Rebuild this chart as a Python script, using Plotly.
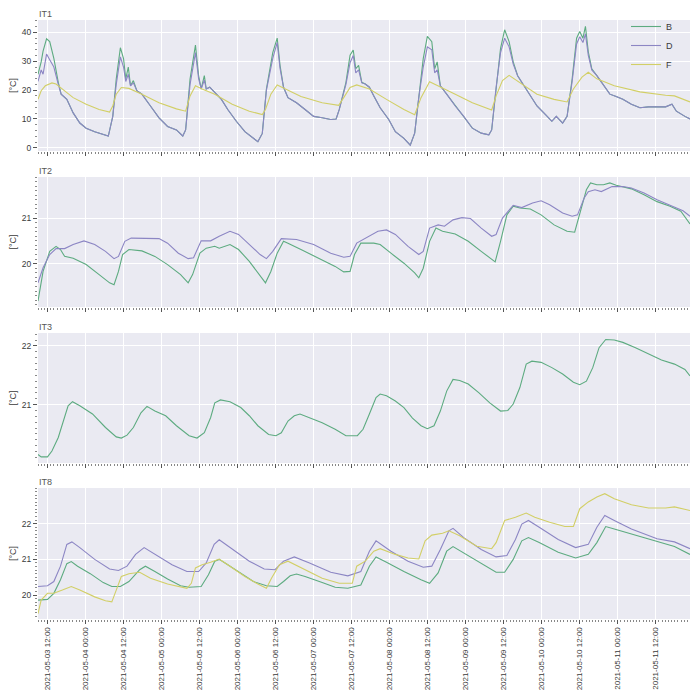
import pandas as pd
import plotly.graph_objects as go
from plotly.subplots import make_subplots

# ---------------- data (hours since 2021-05-03 00:00) ----------------
T0 = pd.Timestamp("2021-05-03 00:00")

it1_hours = [9.0, 10.0, 10.6, 11.7, 12.7, 14.0, 15.4, 16.3, 18.1, 20.1, 22.2, 24.2, 26.9, 29.6, 31.2,
             32.6, 33.7, 35.0, 36.0, 36.7, 37.5, 38.2, 39.1, 40.2, 41.8, 44.5, 47.2, 49.9, 52.7, 54.7,
             55.6, 57.0, 58.7, 59.7, 60.5, 61.5, 62.1, 63.2, 64.8, 66.9, 68.9, 71.6, 74.3, 77.0, 78.4,
             79.8, 81.1, 83.1, 84.5, 85.4, 86.5, 87.9, 90.6, 93.3, 96.0, 98.7, 101.4, 103.1, 104.1, 106.2,
             107.5, 108.5, 109.3, 110.2, 111.2, 112.3, 113.6, 115.0, 117.0, 119.7, 121.8, 124.5, 126.5, 127.9, 129.2,
             130.6, 131.9, 133.3, 134.2, 135.0, 136.0, 138.0, 140.7, 143.4, 146.1, 148.9, 151.3, 152.2, 153.6, 155.0,
             156.3, 157.7, 159.0, 160.4, 162.4, 164.4, 166.5, 169.2, 171.2, 172.6, 174.6, 176.0, 177.6, 179.0, 180.0,
             181.0, 181.8, 182.7, 183.8, 185.4, 187.5, 189.5, 191.5, 193.6, 196.3, 199.0, 201.7, 204.4, 207.1, 209.1,
             210.5, 213.2, 214.8]
it1_B = [25.5, 29.8, 33.5, 37.8, 36.8, 31.0, 22.7, 18.6, 16.8, 12.1, 8.6, 6.8, 5.6, 4.5, 4.1,
         10.9, 23.9, 34.7, 30.9, 23.9, 28.0, 21.5, 23.3, 19.8, 18.6, 14.5, 10.4, 7.4, 6.2, 4.1,
         6.2, 23.9, 35.6, 25.0, 20.4, 25.0, 20.4, 21.0, 19.2, 16.8, 13.3, 9.2, 5.6, 3.3, 2.1,
         5.0, 20.4, 33.0, 38.0, 28.6, 21.0, 17.4, 15.6, 13.3, 10.9, 10.4, 9.8, 10.0, 13.3, 22.7,
         32.1, 33.9, 27.4, 28.6, 22.7, 22.1, 21.0, 18.0, 13.9, 9.8, 5.6, 3.3, 0.9, 5.1, 18.0,
         30.9, 38.6, 36.8, 27.4, 29.8, 21.5, 18.6, 14.5, 10.9, 6.8, 5.1, 4.5, 6.2, 21.5, 34.5,
         40.9, 36.8, 29.8, 25.0, 21.5, 18.0, 14.5, 11.5, 9.2, 10.9, 8.6, 10.9, 23.9, 38.0, 40.3,
         38.0, 42.1, 33.3, 27.4, 25.0, 21.5, 18.6, 17.8, 16.8, 15.1, 13.9, 14.2, 14.2, 14.2, 15.1,
         12.7, 10.9, 10.0]
it1_D = [23.0, 27.0, 25.5, 32.5, 30.5, 28.0, 22.0, 18.6, 16.8, 12.1, 8.6, 6.8, 5.6, 4.5, 4.1,
         10.9, 22.0, 31.5, 28.0, 23.0, 25.5, 21.5, 22.5, 19.8, 18.6, 14.5, 10.4, 7.4, 6.2, 4.1,
         6.2, 22.0, 33.0, 24.0, 20.4, 23.5, 20.4, 21.0, 19.2, 16.8, 13.3, 9.2, 5.6, 3.3, 2.1,
         5.0, 20.0, 31.0, 36.5, 27.5, 21.0, 17.4, 15.6, 13.3, 10.9, 10.4, 9.8, 10.0, 13.3, 22.0,
         29.5, 32.0, 26.0, 27.0, 22.5, 22.1, 21.0, 18.0, 13.9, 9.8, 5.6, 3.3, 0.9, 5.1, 17.5,
         28.0, 35.0, 34.0, 26.0, 27.0, 21.5, 18.6, 14.5, 10.9, 6.8, 5.1, 4.5, 6.2, 21.0, 33.0,
         38.0, 35.0, 29.0, 25.0, 21.5, 18.0, 14.5, 11.5, 9.2, 10.9, 8.6, 10.9, 23.0, 36.0, 38.5,
         36.5, 39.5, 32.0, 27.0, 25.0, 21.5, 18.6, 17.8, 16.8, 15.1, 13.9, 14.2, 14.2, 14.2, 15.1,
         12.7, 10.9, 10.0]

it1_F_hours = [9.0, 10.0, 11.3, 13.4, 14.7, 16.7, 20.1, 24.2, 28.3, 31.6, 32.6, 33.7, 35.3, 37.7, 41.8,
               47.2, 52.7, 55.6, 57.0, 58.7, 60.8, 64.8, 70.3, 75.7, 79.8, 80.8, 82.5, 84.5, 87.2, 92.0,
               98.7, 103.9, 105.5, 107.5, 109.6, 113.6, 119.0, 124.5, 127.9, 129.9, 132.6, 135.3, 140.7, 146.1, 152.2,
               153.6, 155.6, 157.7, 161.1, 166.5, 171.9, 176.0, 178.0, 180.7, 182.7, 185.4, 190.9, 199.0, 207.1, 209.9,
               214.8]
it1_F = [16.8, 19.8, 21.5, 22.5, 22.1, 20.4, 17.4, 15.1, 13.3, 12.4, 14.5, 18.6, 20.9, 20.6, 18.6,
         15.6, 13.5, 12.7, 18.0, 21.5, 20.4, 18.6, 15.1, 12.7, 11.5, 13.3, 18.6, 21.8, 20.4, 17.8,
         15.6, 14.7, 17.4, 20.9, 21.8, 20.4, 16.8, 13.3, 11.5, 17.4, 22.9, 21.5, 18.6, 15.6, 13.1,
         18.0, 23.3, 25.1, 22.7, 18.6, 16.8, 15.9, 20.4, 24.5, 26.2, 23.9, 21.5, 19.4, 18.2, 18.0,
         15.9]

it2_B_hours = [9.0, 10.6, 12.7, 14.7, 16.1, 17.4, 20.1, 24.2, 28.3, 31.6, 33.0, 34.4, 35.7, 37.7, 41.8,
               45.9, 49.9, 54.0, 56.4, 57.8, 60.1, 62.1, 64.8, 66.2, 69.6, 72.3, 75.7, 78.4, 80.8, 82.5,
               84.5, 86.5, 87.9, 92.0, 97.4, 102.8, 105.5, 107.5, 108.9, 110.9, 115.0, 117.0, 120.4, 124.5, 127.9,
               129.2, 130.6, 132.6, 134.6, 136.7, 140.7, 144.8, 148.9, 152.2, 153.3, 155.0, 157.0, 159.0, 161.1, 164.4,
               167.8, 171.9, 176.0, 178.4, 180.0, 182.1, 183.4, 185.4, 187.5, 189.5, 191.5, 193.6, 196.3, 200.3, 204.4,
               208.5, 211.9, 214.8]
it2_B = [19.18, 19.83, 20.27, 20.38, 20.31, 20.16, 20.12, 19.98, 19.76, 19.58, 19.54, 19.83, 20.20, 20.31, 20.28,
         20.16, 19.98, 19.76, 19.58, 19.76, 20.23, 20.34, 20.38, 20.34, 20.42, 20.31, 20.05, 19.80, 19.58, 19.83,
         20.23, 20.49, 20.45, 20.31, 20.12, 19.94, 19.82, 19.83, 20.20, 20.45, 20.45, 20.42, 20.23, 20.01, 19.80,
         19.69, 19.90, 20.49, 20.78, 20.71, 20.65, 20.49, 20.27, 20.09, 20.04, 20.49, 21.07, 21.26, 21.22, 21.20,
         21.07, 20.85, 20.71, 20.69, 21.07, 21.62, 21.77, 21.73, 21.73, 21.77, 21.72, 21.69, 21.64, 21.51, 21.36,
         21.26, 21.15, 20.87]

it2_D_hours = [9.0, 10.6, 12.7, 14.7, 17.4, 20.1, 23.5, 26.9, 30.3, 33.0, 34.4, 36.4, 38.4, 41.8, 47.2,
               49.9, 53.3, 56.4, 58.1, 60.5, 63.5, 66.2, 69.6, 72.3, 75.7, 79.1, 81.1, 83.1, 85.8, 90.6,
               96.0, 101.4, 105.5, 107.5, 109.6, 112.3, 116.3, 119.0, 121.8, 125.8, 129.2, 130.6, 132.6, 135.3, 137.3,
               140.0, 142.8, 145.5, 148.9, 152.2, 153.6, 155.6, 159.0, 161.7, 165.1, 167.8, 170.5, 174.6, 177.6, 179.3,
               181.4, 182.7, 184.8, 186.8, 190.2, 193.6, 196.3, 200.3, 204.4, 208.5, 212.6, 214.8]
it2_D = [19.58, 19.91, 20.20, 20.33, 20.33, 20.42, 20.50, 20.42, 20.27, 20.11, 20.16, 20.49, 20.56, 20.56, 20.55,
         20.45, 20.23, 20.11, 20.13, 20.50, 20.50, 20.60, 20.71, 20.64, 20.42, 20.20, 20.11, 20.27, 20.55, 20.53,
         20.42, 20.23, 20.14, 20.16, 20.45, 20.55, 20.71, 20.74, 20.64, 20.38, 20.20, 20.27, 20.78, 20.85, 20.82,
         20.96, 21.01, 20.99, 20.78, 20.60, 20.64, 21.00, 21.28, 21.23, 21.33, 21.38, 21.29, 21.11, 21.04, 21.07,
         21.44, 21.58, 21.62, 21.58, 21.69, 21.69, 21.66, 21.55, 21.40, 21.28, 21.16, 21.04]

it3_B_hours = [9.0, 10.0, 12.0, 13.4, 15.4, 17.2, 18.5, 19.9, 22.2, 26.2, 30.3, 33.7, 35.3, 37.1, 39.1,
               41.5, 43.4, 45.9, 49.3, 52.7, 56.7, 59.2, 61.5, 63.5, 64.8, 66.6, 69.6, 73.0, 75.7, 78.4,
               81.8, 84.1, 85.8, 87.9, 89.9, 91.7, 94.7, 98.7, 102.8, 106.2, 109.8, 111.6, 113.6, 115.7, 117.0,
               119.0, 121.8, 124.5, 127.2, 129.9, 131.9, 134.0, 136.0, 138.0, 140.0, 142.1, 144.8, 148.2, 151.6, 155.0,
               157.3, 159.0, 161.1, 163.1, 164.9, 167.8, 171.2, 174.6, 178.0, 180.0, 182.1, 184.1, 186.1, 188.2, 190.9,
               193.6, 197.6, 201.7, 205.8, 209.9, 213.2, 214.8]
it3_B = [20.15, 20.11, 20.11, 20.21, 20.44, 20.78, 20.98, 21.05, 20.98, 20.84, 20.61, 20.45, 20.43, 20.48, 20.61,
         20.86, 20.97, 20.89, 20.81, 20.64, 20.47, 20.43, 20.52, 20.78, 21.03, 21.08, 21.05, 20.95, 20.81, 20.64,
         20.49, 20.47, 20.52, 20.72, 20.81, 20.84, 20.77, 20.69, 20.58, 20.47, 20.47, 20.58, 20.84, 21.12, 21.18,
         21.15, 21.06, 20.95, 20.77, 20.64, 20.59, 20.64, 20.89, 21.23, 21.43, 21.41, 21.35, 21.20, 21.03, 20.89,
         20.90, 21.01, 21.29, 21.69, 21.74, 21.72, 21.63, 21.52, 21.38, 21.34, 21.40, 21.63, 21.97, 22.11, 22.10,
         22.06, 21.97, 21.86, 21.76, 21.69, 21.60, 21.49]

it8_B_hours = [9.0, 12.0, 14.0, 16.1, 18.1, 19.5, 21.5, 25.5, 29.6, 32.3, 35.0, 37.7, 41.1, 42.9, 45.9,
               49.9, 54.0, 56.7, 60.5, 62.8, 64.8, 66.2, 68.9, 73.0, 77.0, 81.1, 84.5, 86.5, 88.6, 90.6,
               93.3, 98.7, 102.8, 106.8, 110.9, 113.6, 115.7, 119.0, 124.5, 129.9, 132.6, 135.3, 138.0, 140.0, 143.4,
               148.9, 153.6, 156.3, 159.0, 161.7, 163.8, 167.2, 173.2, 178.7, 182.7, 185.4, 188.2, 190.9, 196.3, 203.1,
               209.9, 214.8]
it8_B = [19.86, 19.88, 20.05, 20.43, 20.88, 20.94, 20.81, 20.60, 20.35, 20.24, 20.24, 20.38, 20.71, 20.81, 20.66,
         20.45, 20.26, 20.22, 20.24, 20.57, 20.95, 21.00, 20.85, 20.62, 20.38, 20.26, 20.24, 20.38, 20.54, 20.59,
         20.52, 20.35, 20.22, 20.19, 20.28, 20.81, 21.07, 20.92, 20.66, 20.43, 20.33, 20.62, 21.23, 21.36, 21.18,
         20.90, 20.64, 20.64, 21.00, 21.52, 21.61, 21.47, 21.20, 21.04, 21.14, 21.47, 21.92, 21.85, 21.71, 21.52,
         21.36, 21.14]

it8_D_hours = [9.0, 12.0, 14.0, 16.1, 18.1, 19.7, 22.2, 26.9, 31.6, 34.4, 37.1, 39.8, 42.5, 45.9, 51.3,
               56.0, 59.7, 62.1, 64.6, 66.2, 70.3, 75.7, 80.4, 83.8, 86.5, 89.9, 94.7, 101.4, 106.8, 110.9,
               113.6, 115.7, 120.4, 125.8, 130.6, 133.3, 136.0, 138.7, 140.0, 143.4, 148.9, 153.6, 157.0, 159.7, 161.7,
               163.8, 167.2, 173.2, 178.7, 182.7, 185.4, 187.9, 190.9, 196.3, 204.4, 209.9, 214.8]
it8_D = [20.24, 20.26, 20.38, 20.81, 21.42, 21.49, 21.33, 21.00, 20.73, 20.69, 20.81, 21.14, 21.33, 21.14, 20.85,
         20.66, 20.66, 20.90, 21.42, 21.55, 21.28, 20.95, 20.73, 20.71, 20.95, 21.07, 20.90, 20.64, 20.54, 20.66,
         21.23, 21.52, 21.23, 20.95, 20.78, 20.81, 21.28, 21.80, 21.87, 21.61, 21.28, 21.07, 21.11, 21.56, 21.99,
         22.09, 21.90, 21.56, 21.33, 21.42, 21.90, 22.23, 22.09, 21.85, 21.58, 21.49, 21.30]

it8_F_hours = [9.0, 10.0, 12.0, 14.0, 16.7, 19.5, 22.2, 26.9, 30.3, 32.3, 33.7, 35.3, 37.7, 41.1, 44.5,
               49.9, 56.0, 57.4, 58.7, 60.8, 63.5, 66.2, 69.6, 74.3, 78.4, 81.1, 82.7, 85.2, 87.9, 92.0,
               98.7, 104.1, 108.2, 109.6, 112.3, 115.0, 117.0, 121.8, 125.8, 129.2, 131.2, 133.3, 136.7, 138.7, 142.1,
               147.5, 152.2, 153.6, 156.3, 159.7, 163.1, 165.8, 170.5, 175.3, 178.0, 180.0, 182.7, 185.4, 187.9, 190.9,
               196.3, 201.7, 207.1, 209.9, 212.6, 214.8]
it8_F = [19.48, 19.86, 20.05, 20.05, 20.14, 20.24, 20.14, 19.95, 19.84, 19.81, 20.14, 20.52, 20.60, 20.64, 20.47,
         20.31, 20.19, 20.33, 20.76, 20.85, 20.92, 21.01, 20.81, 20.52, 20.31, 20.19, 20.47, 20.85, 20.95, 20.76,
         20.47, 20.33, 20.33, 20.81, 20.95, 21.23, 21.30, 21.14, 21.04, 21.01, 21.52, 21.68, 21.73, 21.80, 21.66,
         21.37, 21.30, 21.47, 22.09, 22.18, 22.30, 22.18, 22.04, 21.92, 21.92, 22.42, 22.61, 22.75, 22.84, 22.70,
         22.53, 22.44, 22.44, 22.47, 22.42, 22.37]

panel_titles = ["IT1", "IT2", "IT3", "IT8"]
y_ranges = [[-1.1, 44.3], [19.05, 21.9], [20.005, 22.22], [19.33, 23.0]]
y_ticks = [[0, 10, 20, 30, 40], [20, 21], [21, 22], [20, 21, 22]]
y_minor = [2, 0.1, 0.1, 0.1]
x_start, x_end = "2021-05-03 09:00", "2021-05-11 22:48"

colors = {"B": "#5dab80", "D": "#8c86c4", "F": "#d2cf66"}


def to_time(hours):
    return [T0 + pd.Timedelta(hours=h) for h in hours]


panels = [
    [("B", it1_hours, it1_B), ("D", it1_hours, it1_D), ("F", it1_F_hours, it1_F)],
    [("B", it2_B_hours, it2_B), ("D", it2_D_hours, it2_D)],
    [("B", it3_B_hours, it3_B)],
    [("B", it8_B_hours, it8_B), ("D", it8_D_hours, it8_D), ("F", it8_F_hours, it8_F)],
]

fig = make_subplots(rows=4, cols=1, shared_xaxes=True)

for i, series in enumerate(panels):
    for name, hrs, vals in series:
        fig.add_trace(go.Scatter(x=to_time(hrs), y=vals, mode="lines", name=name,
                                 line=dict(color=colors[name], width=1.1),
                                 showlegend=(i == 0), legendgroup=name), row=i + 1, col=1)

# page has an 8px body margin: figure is 684x684 and positioned at (8, 8)
S = 684
OFF = 8
px_top = [20, 177, 333, 488]
px_bot = [151, 307, 463, 619]
x_dom = [(38 - OFF) / S, (690 - OFF) / S]

font_family = "Liberation Sans, Arial, sans-serif"
tick_color = "#3a3a3a"

for i in range(4):
    ya = "yaxis" if i == 0 else f"yaxis{i + 1}"
    xa = "xaxis" if i == 0 else f"xaxis{i + 1}"
    fig.layout[ya].update(
        domain=[1 - (px_bot[i] - OFF) / S, 1 - (px_top[i] - OFF) / S],
        range=y_ranges[i], tickmode="array", tickvals=y_ticks[i],
        showgrid=True, gridcolor="white", gridwidth=1, zeroline=False,
        showline=False, ticks="outside", ticklen=4, tickcolor="#555555", tickwidth=1,
        tickfont=dict(size=8.5, color=tick_color, family=font_family),
        minor=dict(dtick=y_minor[i], ticks="outside", ticklen=2, tickcolor="#888888", showgrid=False),
        title=dict(text="[°C]", font=dict(size=9, color=tick_color, family=font_family), standoff=4),
        automargin=False,
    )
    fig.layout[xa].update(
        domain=x_dom, type="date", range=[x_start, x_end],
        tick0="2021-05-03 00:00", dtick=12 * 3600 * 1000, tickformat="%Y-%m-%d %H:%M",
        showgrid=True, gridcolor="white", gridwidth=1, zeroline=False, showline=False,
        ticks="outside", ticklen=4, tickcolor="#555555", tickwidth=1,
        minor=dict(dtick=3600 * 1000, ticks="outside", ticklen=2, tickcolor="#888888", showgrid=False),
        showticklabels=(i == 3), tickangle=-90,
        tickfont=dict(size=8, color=tick_color, family=font_family),
        automargin=False,
    )
    xref = "x domain" if i == 0 else f"x{i + 1} domain"
    yref = "y domain" if i == 0 else f"y{i + 1} domain"
    fig.add_annotation(text=panel_titles[i], xref=xref, yref=yref, x=0, y=1,
                       xanchor="left", yanchor="bottom", yshift=0, showarrow=False,
                       borderpad=0, font=dict(size=9, color="#555555", family=font_family))

fig.update_layout(
    width=S, height=S,
    margin=dict(l=0, r=0, t=0, b=0),
    paper_bgcolor="white", plot_bgcolor="#EAEAF2",
    showlegend=True,
    legend=dict(x=1 - (704 - 690) / S, y=1 - (12 - OFF) / S, xanchor="right", yanchor="top",
                bgcolor="rgba(0,0,0,0)", font=dict(size=9, color=tick_color, family=font_family),
                itemwidth=30, tracegroupgap=0),
    font=dict(family=font_family),
)

fig.write_html("out.html")
